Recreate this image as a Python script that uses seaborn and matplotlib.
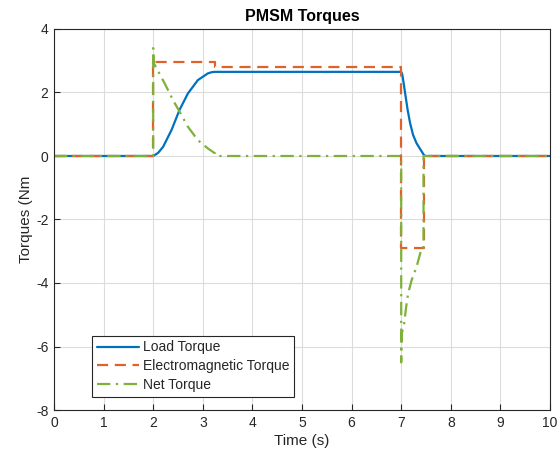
import matplotlib
matplotlib.use("Agg")
import matplotlib.pyplot as plt
import seaborn as sns
import pandas as pd

# ---- data ----
load_t = [0, 2.0, 2.1, 2.2, 2.37, 2.53, 2.7, 2.9, 3.1, 3.18, 3.25, 7.0, 7.02, 7.04, 7.08, 7.13, 7.18, 7.24, 7.31, 7.37, 7.41, 7.45, 7.48, 10]
load_v = [0, 0, 0.10, 0.29, 0.82, 1.45, 1.97, 2.39, 2.60, 2.64, 2.65, 2.65, 2.58, 2.39, 1.97, 1.45, 1.03, 0.66, 0.40, 0.25, 0.15, 0.05, 0.0, 0.0]

em_t = [0, 2.0, 2.0, 3.25, 3.25, 7.0, 7.0, 7.45, 7.45, 10]
em_v = [0, 0, 2.96, 2.96, 2.80, 2.80, -2.90, -2.90, 0, 0]

net_t = [0, 2.0, 2.0, 2.01, 2.23, 2.40, 2.53, 2.70, 2.90, 3.10, 3.25, 3.27, 7.0, 7.0, 7.01, 7.06, 7.10, 7.14, 7.21, 7.31, 7.41, 7.45, 7.45, 10]
net_v = [0, 0, 3.40, 2.93, 2.29, 1.76, 1.40, 0.92, 0.50, 0.24, 0.08, 0, 0, -6.5, -5.6, -5.27, -4.75, -4.33, -3.91, -3.49, -2.91, -2.90, 0, 0]

labels = ["Load Torque", "Electromagnetic Torque", "Net Torque"]
title = "PMSM Torques"
xlabel = "Time (s)"
ylabel = "Torques (Nm"

sns.set_theme(style="whitegrid")
plt.rcParams['font.family'] = ['Liberation Sans', 'DejaVu Sans']
plt.rcParams['axes.unicode_minus'] = False

fig = plt.figure(figsize=(5.6, 4.61), dpi=100)
ax = fig.add_axes([54/560, 1-410/461, 496/560, 381/461])

blue = "#0072BD"
orange = "#E0612A"
green = "#7DB13A"

sns.lineplot(x=load_t, y=load_v, sort=False, estimator=None, ax=ax, color=blue,
             linewidth=1.6, label=labels[0])
sns.lineplot(x=em_t, y=em_v, sort=False, estimator=None, ax=ax, color=orange,
             linewidth=1.6, linestyle=(0, (5, 3)), label=labels[1])
sns.lineplot(x=net_t, y=net_v, sort=False, estimator=None, ax=ax, color=green,
             linewidth=1.6, linestyle=(0, (6, 2.5, 1, 2.5)), label=labels[2])

ax.set_xlim(0, 10)
ax.set_ylim(-8, 4)
ax.set_xticks(range(0, 11))
ax.set_yticks(range(-8, 5, 2))
ax.set_facecolor("white")
ax.grid(True, color="#dcdcdc", linewidth=0.8)
for s in ax.spines.values():
    s.set_color("#262626")
    s.set_linewidth(0.8)
ax.tick_params(axis="both", direction="in", length=4, width=0.8, colors="#262626",
               labelsize=10, labelcolor="#262626", bottom=True, left=True, pad=4)
ax.set_xlabel(xlabel, fontsize=11, color="#262626", labelpad=3)
ax.set_ylabel(ylabel, fontsize=11, color="#262626", labelpad=2)
ax.set_title(title, fontsize=11.5, fontweight="bold", color="black", pad=6)

leg = ax.legend(loc="lower left", bbox_to_anchor=(0.077, 0.034), fontsize=10,
                frameon=True, fancybox=False, edgecolor="#262626", framealpha=1,
                handlelength=3.0, borderpad=0.35, labelspacing=0.35, handletextpad=0.3,
                borderaxespad=0)
leg.get_frame().set_linewidth(0.8)

fig.savefig("out.png", dpi=100)
